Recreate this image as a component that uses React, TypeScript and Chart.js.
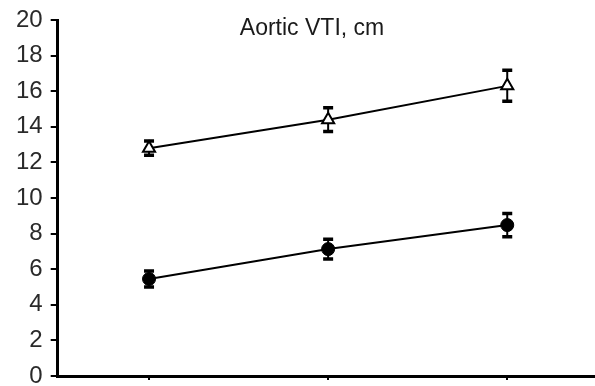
import React, { useEffect, useRef } from "react";
import { Chart, registerables } from "chart.js";

Chart.register(...registerables);

const positions = [1, 2, 3];
const triangleValues = [12.8, 14.4, 16.3];
const triangleErrors = [0.4, 0.67, 0.87];
const circleValues = [5.45, 7.13, 8.48];
const circleErrors = [0.45, 0.55, 0.65];
const yTicks = [0, 2, 4, 6, 8, 10, 12, 14, 16, 18, 20];
const titleText = "Aortic VTI, cm";

const FONT = '"Liberation Sans", Arial, sans-serif';

const errorBarPlugin = {
  id: "errorBars",
  beforeDatasetsDraw(chart: any) {
    const ctx = chart.ctx;
    const xs = chart.scales.x;
    const ys = chart.scales.y;
    const sets = [
      { vals: triangleValues, errs: triangleErrors },
      { vals: circleValues, errs: circleErrors },
    ];
    ctx.save();
    ctx.strokeStyle = "#000";
    sets.forEach((s) => {
      s.vals.forEach((v, i) => {
        const px = xs.getPixelForValue(positions[i]);
        const top = ys.getPixelForValue(v + s.errs[i]);
        const bot = ys.getPixelForValue(v - s.errs[i]);
        ctx.lineWidth = 2;
        ctx.beginPath();
        ctx.moveTo(px, top);
        ctx.lineTo(px, bot);
        ctx.stroke();
        ctx.lineWidth = 3.5;
        ctx.beginPath();
        ctx.moveTo(px - 5, top);
        ctx.lineTo(px + 5, top);
        ctx.moveTo(px - 5, bot);
        ctx.lineTo(px + 5, bot);
        ctx.stroke();
      });
    });
    ctx.restore();
  },
};

const innerTitlePlugin = {
  id: "innerTitle",
  afterDraw(chart: any) {
    const ctx = chart.ctx;
    const xs = chart.scales.x;
    ctx.save();
    ctx.font = "23px " + FONT;
    ctx.fillStyle = "#1a1a1a";
    ctx.textAlign = "center";
    ctx.textBaseline = "alphabetic";
    ctx.fillText(titleText, xs.getPixelForValue(1.91), 35);
    ctx.restore();
  },
};

const zeroPad = (scale: any) => {
  scale.paddingTop = 0;
  scale.paddingBottom = 0;
  scale.paddingLeft = 0;
  scale.paddingRight = 0;
};

export default function App() {
  const ref = useRef<HTMLCanvasElement>(null);
  useEffect(() => {
    document.body.style.margin = "0";
    const chart = new Chart(ref.current!, {
      type: "line",
      data: {
        datasets: [
          {
            data: positions.map((x, i) => ({ x, y: triangleValues[i] })),
            borderColor: "#000",
            borderWidth: 2,
            pointStyle: "triangle",
            pointRadius: 7,
            pointBackgroundColor: "#fff",
            pointBorderColor: "#000",
            pointBorderWidth: 2,
          },
          {
            data: positions.map((x, i) => ({ x, y: circleValues[i] })),
            borderColor: "#000",
            borderWidth: 2,
            pointStyle: "circle",
            pointRadius: 6.5,
            pointBackgroundColor: "#000",
            pointBorderColor: "#000",
            pointBorderWidth: 1,
          },
        ],
      },
      options: {
        animation: false,
        responsive: false,
        layout: { autoPadding: false, padding: { top: 20, right: 0, left: 8, bottom: 6 } },
        plugins: { legend: { display: false }, tooltip: { enabled: false }, title: { display: false } },
        scales: {
          x: {
            type: "linear",
            min: 0.49,
            max: 3.49,
            afterBuildTicks: (axis: any) => {
              axis.ticks = positions.map((v) => ({ value: v }));
            },
            afterFit: zeroPad,
            ticks: { display: false },
            grid: { drawOnChartArea: false, drawTicks: true, tickLength: 4, color: "#000", lineWidth: 2 },
            border: { display: true, color: "#000", width: 3 },
          },
          y: {
            min: 0,
            max: 20,
            afterBuildTicks: (axis: any) => {
              axis.ticks = yTicks.map((v) => ({ value: v }));
            },
            afterFit: zeroPad,
            ticks: {
              color: "#2a2a2a",
              font: { size: 24, family: FONT },
              padding: 8,
            },
            grid: { drawOnChartArea: false, drawTicks: true, tickLength: 7, color: "#000", lineWidth: 2 },
            border: { display: true, color: "#000", width: 3 },
          },
        },
      },
      plugins: [errorBarPlugin, innerTitlePlugin],
    } as any);
    return () => chart.destroy();
  }, []);
  return <canvas ref={ref} width={595} height={386} style={{ display: "block" }} />;
}
